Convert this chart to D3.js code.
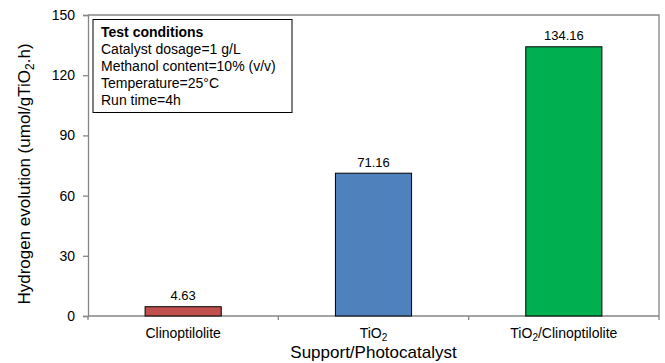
<!DOCTYPE html>
<html>
<head>
<meta charset="utf-8">
<script src="https://cdn.jsdelivr.net/npm/d3@7"></script>
<style>
  body { margin: 0; background: #fff; }
  svg text { font-family: "Liberation Sans", Arial, sans-serif; fill: #000; }
</style>
</head>
<body>
<svg id="chart"></svg>
<script>
// categories and values
var categories = ["Clinoptilolite", "TiO2", "TiO2/Clinoptilolite"]
var values = [4.63, 71.16, 134.16]
var barColors = ["#C0504D", "#4F81BD", "#00B050"]
var yTicks = [0, 30, 60, 90, 120, 150]
var conditions = ["Catalyst dosage=1 g/L", "Methanol content=10% (v/v)", "Temperature=25°C", "Run time=4h"]

var dimensions = {
    width: 665,
    height: 363,
    margin: { top: 15, bottom: 47, right: 6, left: 88 }
}

var svg = d3.select("#chart")
    .attr("width", dimensions.width)
    .attr("height", dimensions.height)

var xScale = d3.scaleBand()
    .domain(categories)
    .range([dimensions.margin.left, dimensions.width - dimensions.margin.right])
    .paddingInner(0.6)
    .paddingOuter(0.3)

var outer = d3.scaleBand()
    .domain(categories)
    .range([dimensions.margin.left, dimensions.width - dimensions.margin.right])

var yScale = d3.scaleLinear()
    .domain([0, 150])
    .range([dimensions.height - dimensions.margin.bottom, dimensions.margin.top])

var x0 = dimensions.margin.left, x1 = dimensions.width - dimensions.margin.right
var y0 = yScale(0), y1 = yScale(150)
var axisColor = "#868686"

// top and right frame
svg.append("path")
    .attr("d", `M${x0},${y1}H${x1}V${y0}`)
    .attr("fill", "none")
    .attr("stroke", axisColor)
    .attr("stroke-width", 1.3)

// y axis
var yAxis = svg.append("g")
    .attr("transform", `translate(${x0},0)`)
    .call(d3.axisLeft(yScale).tickValues(yTicks).tickSize(5).tickPadding(8))
yAxis.select(".domain").attr("stroke", axisColor).attr("stroke-width", 1.3)
yAxis.selectAll(".tick line").attr("stroke", axisColor).attr("stroke-width", 1.3)
yAxis.selectAll("text").style("font-size", "14px").attr("fill", "#000")

// x axis with ticks between categories
var bounds = categories.map(c => outer(c)).concat([x1])
var xAxis = svg.append("g")
    .attr("transform", `translate(0,${y0})`)
xAxis.append("line")
    .attr("x1", x0).attr("x2", x1).attr("y1", 0).attr("y2", 0)
    .attr("stroke", axisColor).attr("stroke-width", 1.3)
xAxis.selectAll("line.tk")
    .data(bounds)
    .enter()
    .append("line")
    .attr("class", "tk")
    .attr("x1", d => d).attr("x2", d => d)
    .attr("y1", 0).attr("y2", 4)
    .attr("stroke", axisColor).attr("stroke-width", 1.3)

// category labels, with subscript 2 on TiO2
var catLabels = xAxis.selectAll("text.cat")
    .data(categories)
    .enter()
    .append("text")
    .attr("class", "cat")
    .attr("x", d => outer(d) + outer.bandwidth() / 2)
    .attr("y", 22)
    .attr("text-anchor", "middle")
    .style("font-size", "14px")
catLabels.each(function (d) {
    var t = d3.select(this)
    var parts = d.split("TiO2")
    var shift = 0
    parts.forEach(function (p, i) {
        if (i > 0) {
            t.append("tspan").text("TiO").attr("dy", -shift)
            t.append("tspan").text("2").attr("dy", 3).style("font-size", "10px")
            shift = 3
        }
        if (p) {
            t.append("tspan").text(p).attr("dy", -shift)
            shift = 0
        }
    })
})

// bars
svg.selectAll("rect.bar")
    .data(values)
    .enter()
    .append("rect")
    .attr("class", "bar")
    .attr("x", (d, i) => xScale(categories[i]))
    .attr("width", xScale.bandwidth())
    .attr("y", d => yScale(d))
    .attr("height", d => yScale(0) - yScale(d))
    .attr("fill", (d, i) => barColors[i])
    .attr("stroke", "#000")
    .attr("stroke-width", 1)

// value labels
svg.selectAll("text.val")
    .data(values)
    .enter()
    .append("text")
    .attr("class", "val")
    .attr("x", (d, i) => xScale(categories[i]) + xScale.bandwidth() / 2)
    .attr("y", d => yScale(d) - 6.5)
    .attr("text-anchor", "middle")
    .style("font-size", "13px")
    .text(d => d.toFixed(2))

// axis titles
svg.append("text")
    .attr("x", (x0 + x1) / 2)
    .attr("y", 358)
    .attr("text-anchor", "middle")
    .style("font-size", "17px")
    .text("Support/Photocatalyst")

var yTitle = svg.append("text")
    .attr("transform", "translate(30,174) rotate(-90)")
    .attr("text-anchor", "middle")
    .style("font-size", "17px")
yTitle.append("tspan").text("Hydrogen evolution (umol/gTiO")
yTitle.append("tspan").text("2").attr("dy", 4).style("font-size", "12px")
yTitle.append("tspan").text(".h)").attr("dy", -4)

// test conditions box
var box = svg.append("g")
box.append("rect")
    .attr("x", 93).attr("y", 19.5)
    .attr("width", 199).attr("height", 93)
    .attr("fill", "#fff")
    .attr("stroke", "#000")
    .attr("stroke-width", 1)
box.append("text")
    .attr("x", 101).attr("y", 37)
    .style("font-size", "14px")
    .style("font-weight", "bold")
    .text("Test conditions")
box.selectAll("text.cond")
    .data(conditions)
    .enter()
    .append("text")
    .attr("class", "cond")
    .attr("x", 101)
    .attr("y", (d, i) => 54 + i * 17)
    .style("font-size", "14px")
    .text(d => d)
</script>
</body>
</html>
